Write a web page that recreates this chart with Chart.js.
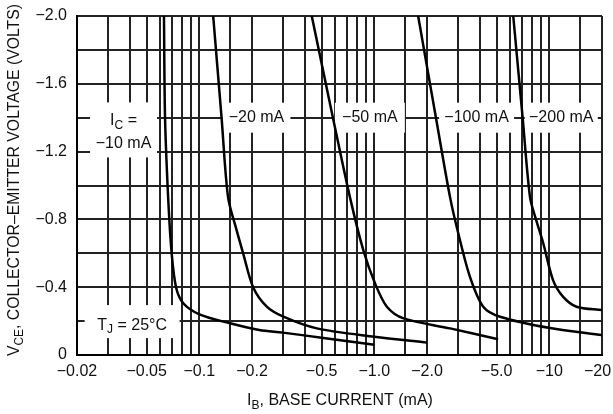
<!DOCTYPE html>
<html><head><meta charset="utf-8">
<script src="https://cdn.jsdelivr.net/npm/chart.js@4/dist/chart.umd.min.js"></script>
<style>html,body{margin:0;padding:0;background:#fff}canvas{display:block}</style>
</head><body>
<canvas id="c" width="613" height="414"></canvas>
<script>
// ---- Data (IB magnitude in mA, VCE magnitude in volts; axes are labelled negative) ----
const ib10  = [0.0628, 0.0637, 0.0665, 0.0695, 0.0736, 0.081, 0.100, 0.150, 0.220, 0.300, 0.500, 1.00];
const vce10 = [2.00,   1.40,   0.91,   0.60,   0.40,   0.305, 0.240, 0.187, 0.148, 0.132, 0.102, 0.060];

const ib20  = [0.120, 0.134, 0.146, 0.162, 0.178, 0.203, 0.243, 0.302, 0.469, 1.00,  2.00];
const vce20 = [2.00,  1.40,  0.93,  0.75,  0.60,  0.40,  0.285, 0.226, 0.157, 0.108, 0.073];

const ib50  = [0.439, 0.580, 0.726, 0.865, 1.01,  1.18,  1.47,  2.71,  5.10];
const vce50 = [2.00,  1.40,  0.93,  0.619, 0.422, 0.285, 0.216, 0.157, 0.093];

const ib100  = [1.78, 2.25, 2.71, 3.02,  3.52,  4.19,  5.23,  10.1,  20.0];
const vce100 = [2.00, 1.40, 0.93, 0.717, 0.461, 0.285, 0.226, 0.159, 0.118];

const ib200  = [6.22, 7.04, 7.76, 8.39, 9.24,  10.5,  12.0,  14.3,  20.0];
const vce200 = [2.00, 1.40, 0.93, 0.80, 0.658, 0.442, 0.343, 0.285, 0.265];

const xTickValues = [0.02, 0.05, 0.1, 0.2, 0.5, 1, 2, 5, 10, 20];
const xTickLabels = ['−0.02', '−0.05', '−0.1', '−0.2', '−0.5', '−1.0', '−2.0', '−5.0', '−10', '−20\u2007'];
const xGridValues = [0.02,0.03,0.04,0.05,0.06,0.07,0.08,0.09,0.1,0.15,0.2,0.3,0.4,0.5,0.6,0.7,0.8,0.9,1,1.5,2,3,4,5,6,7,8,9,10,15,20];

const yTickValues = [0, 0.4, 0.8, 1.2, 1.6, 2.0];
const yTickLabels = ['0', '−0.4', '−0.8', '−1.2', '−1.6', '−2.0'];
const yGridValues = [0,0.2,0.4,0.6,0.8,1.0,1.2,1.4,1.6,1.8,2.0];

const seriesLabels = ['−10 mA', '−20 mA', '−50 mA', '−100 mA', '−200 mA'];

// ---- helpers ----
const FONT = "'Liberation Sans', Arial, Helvetica, sans-serif";
const toPts = (xs, ys) => xs.map((x, i) => ({x, y: ys[i]}));
const near = (a, b) => Math.abs(a - b) <= 1e-6 * Math.max(Math.abs(a), Math.abs(b), 1e-9);

function drawRich(ctx, parts, cx, cy, size) {
  let w = 0;
  parts.forEach(p => { ctx.font = (p.sub ? size * 0.75 : size) + 'px ' + FONT; w += ctx.measureText(p.t).width; });
  let x = cx - w / 2;
  ctx.textAlign = 'left';
  ctx.textBaseline = 'middle';
  parts.forEach(p => {
    ctx.font = (p.sub ? size * 0.75 : size) + 'px ' + FONT;
    ctx.fillText(p.t, x, cy + (p.sub ? size * 0.3 : 0));
    x += ctx.measureText(p.t).width;
  });
  return w;
}

const annotations = [
  { ib: 0.0369, v: 1.328, hw: 33.5, hh: 27.5,
    lines: [ {dy: -9.5, parts: [{t:'I'}, {t:'C', sub:true}, {t:' ='}]},
             {dy: 14,   parts: [{t: '−10 mA'}]} ] },
  { ib: 0.212, v: 1.40, hw: 34, hh: 15, lines: [ {dy: 0, parts: [{t: seriesLabels[1]}]} ] },
  { ib: 0.943, v: 1.40, hw: 35, hh: 15, lines: [ {dy: 0, parts: [{t: seriesLabels[2]}]} ] },
  { ib: 3.84,  v: 1.40, hw: 37.5, hh: 15, lines: [ {dy: 0, parts: [{t: seriesLabels[3]}]} ] },
  { ib: 11.7,  v: 1.40, hw: 36.5, hh: 15, lines: [ {dy: 0, parts: [{t: seriesLabels[4]}]} ] },
  { ib: 0.0413, v: 0.197, hw: 47.5, hh: 16.5,
    lines: [ {dy: 3.5, parts: [{t:'T'}, {t:'J', sub:true}, {t:' = 25°C'}]} ] }
];

const annotPlugin = {
  id: 'annot',
  beforeDatasetsDraw(chart) {
    const ctx = chart.ctx, xs = chart.scales.x, ys = chart.scales.y;
    ctx.save();
    annotations.forEach(a => {
      const cx = xs.getPixelForValue(a.ib), cy = ys.getPixelForValue(a.v);
      ctx.fillStyle = '#fff';
      ctx.fillRect(cx - a.hw, cy - a.hh, a.hw * 2, a.hh * 2);
      ctx.fillStyle = '#111';
      a.lines.forEach(l => drawRich(ctx, l.parts, cx, cy + l.dy, 16));
    });
    ctx.restore();
  },
  afterDraw(chart) {
    const ctx = chart.ctx;
    ctx.save();
    ctx.fillStyle = '#111';
    drawRich(ctx, [{t:'I'}, {t:'B', sub:true}, {t:', BASE CURRENT (mA)'}], 340, 401, 16);
    ctx.translate(15, 180);
    ctx.rotate(-Math.PI / 2);
    const parts = [{t:'V'}, {t:'CE', sub:true}, {t:', COLLECTOR–EMITTER VOLTAGE (VOLTS)'}];
    let w = 0;
    parts.forEach(p => { ctx.font = (p.sub ? 12 : 16) + 'px ' + FONT; w += ctx.measureText(p.t).width; });
    const target = 352;
    if (w > target) ctx.scale(target / w, 1);
    drawRich(ctx, parts, 0, 0, 16);
    ctx.restore();
  }
};

const lineStyle = { borderColor: '#000', borderWidth: 2.5, pointRadius: 0, showLine: true,
                    tension: 0.3, fill: false };

new Chart(document.getElementById('c'), {
  type: 'scatter',
  data: {
    datasets: [
      Object.assign({ label: seriesLabels[0], data: toPts(ib10, vce10) }, lineStyle),
      Object.assign({ label: seriesLabels[1], data: toPts(ib20, vce20) }, lineStyle),
      Object.assign({ label: seriesLabels[2], data: toPts(ib50, vce50) }, lineStyle),
      Object.assign({ label: seriesLabels[3], data: toPts(ib100, vce100) }, lineStyle),
      Object.assign({ label: seriesLabels[4], data: toPts(ib200, vce200) }, lineStyle)
    ]
  },
  options: {
    responsive: false,
    devicePixelRatio: 1,
    animation: false,
    layout: { padding: 0 },
    plugins: { legend: { display: false }, tooltip: { enabled: false } },
    scales: {
      x: {
        type: 'logarithmic', min: 0.02, max: 20,
        afterBuildTicks: s => { s.ticks = xGridValues.map(v => ({ value: v })); },
        afterFit: s => { s.height = 59; s.paddingLeft = 0; s.paddingRight = 11; },
        ticks: {
          autoSkip: false, maxRotation: 0, minRotation: 0, padding: 7, color: '#111',
          font: { family: FONT, size: 16 },
          callback: (val) => { const i = xTickValues.findIndex(t => near(t, val)); return i >= 0 ? xTickLabels[i] : ''; }
        },
        grid: { color: '#222', lineWidth: 2, drawTicks: false },
        border: { display: true, color: '#000', width: 2 },
        title: { display: false }
      },
      y: {
        type: 'linear', min: 0, max: 2,
        afterBuildTicks: s => { s.ticks = yGridValues.map(v => ({ value: v })); },
        afterFit: s => { s.width = 77; s.paddingTop = 16; s.paddingBottom = 0; },
        ticks: {
          autoSkip: false, padding: 10, color: '#111',
          font: { family: FONT, size: 16 },
          callback: (val) => { const i = yTickValues.findIndex(t => near(t, val)); return i >= 0 ? yTickLabels[i] : ''; }
        },
        grid: { color: '#222', lineWidth: 2, drawTicks: false },
        border: { display: true, color: '#000', width: 2 },
        title: { display: false }
      }
    }
  },
  plugins: [annotPlugin]
});
</script>
</body></html>
